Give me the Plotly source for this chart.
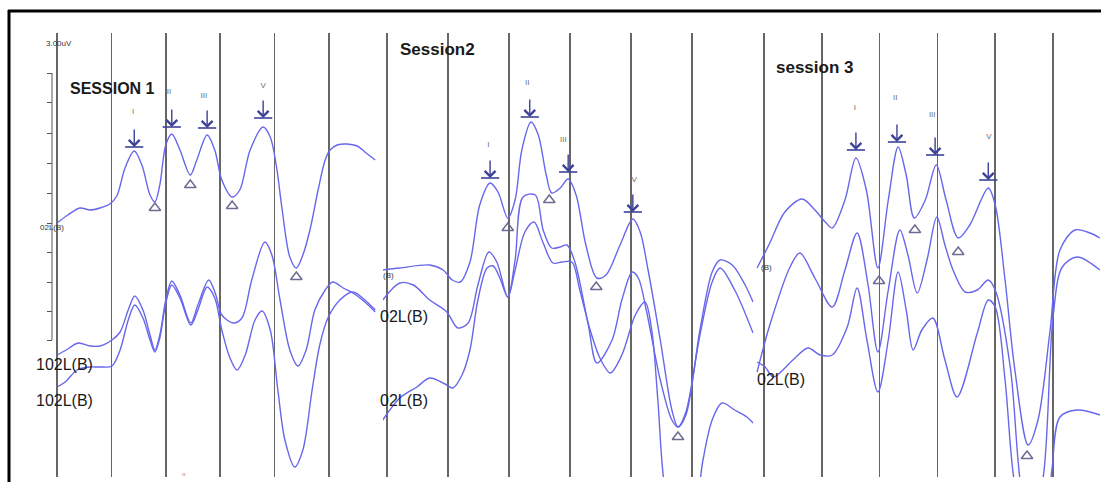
import plotly.graph_objects as go

W, H = 1101, 482

# ---------------- data (time in ms, amplitude in uV display units) ----------------
# Session 1
s1_t_a = [1.00,1.20,1.42,1.61,1.79,1.97,2.10,2.25,2.42,2.56,2.71,2.80,2.89,3.00,3.11,3.26,3.45,3.57,3.76,3.90,4.03,4.22,4.36,4.55,4.79,4.92,5.03,5.14,5.28,5.40,5.52,5.65,5.80,5.93,6.02,6.15,6.33,6.52,6.66,6.85]
s1_v_a = [5.54,5.70,5.84,5.80,5.84,5.92,6.08,6.64,6.98,6.70,6.10,5.96,6.30,7.10,7.32,7.00,6.50,6.80,7.30,7.00,6.40,6.06,6.20,7.00,7.46,7.26,6.70,5.80,4.86,4.64,4.90,5.40,6.20,6.80,7.00,7.10,7.12,7.08,6.96,6.80]
s1_t_b = [1.00,1.17,1.39,1.61,1.79,2.01,2.16,2.31,2.43,2.58,2.71,2.80,2.89,3.00,3.11,3.26,3.46,3.59,3.79,3.92,4.03,4.24,4.40,4.58,4.82,4.95,5.10,5.28,5.43,5.58,5.74,5.93,6.07,6.26,6.44,6.66,6.85]
s1_v_b = [2.90,3.00,3.14,3.08,3.08,3.20,3.36,3.80,4.08,3.80,3.30,3.00,3.30,4.00,4.38,4.10,3.54,3.90,4.40,4.10,3.70,3.54,3.64,4.40,5.16,4.90,4.00,3.00,2.68,3.00,3.80,4.20,4.36,4.24,4.14,3.96,3.76]
s1_t_c = [1.00,1.15,1.37,1.61,1.79,2.01,2.16,2.31,2.43,2.58,2.71,2.80,2.89,3.00,3.11,3.26,3.46,3.59,3.76,3.90,4.03,4.18,4.31,4.46,4.64,4.77,4.92,5.06,5.19,5.37,5.52,5.69,5.83,5.98,6.20,6.44,6.66,6.85]
s1_v_c = [2.26,2.36,2.60,2.66,2.66,2.68,3.00,3.60,3.90,3.64,3.20,2.96,3.24,3.94,4.30,4.04,3.50,3.80,4.26,4.04,3.40,2.84,2.60,2.90,3.60,3.78,3.40,2.20,1.20,0.66,1.00,2.20,3.10,3.64,4.00,4.16,4.00,3.80]
s1_peak_t = [2.42,3.11,3.76,4.79]
s1_peak_v = [7.06,7.46,7.44,7.64]
s1_lab_t = [2.40,3.06,3.70,4.79]
s1_lab_v = [7.76,8.16,8.08,8.28]
s1_trough_t = [2.80,3.45,4.22,5.40]
s1_trough_v = [5.84,6.30,5.88,4.46]

# Session 2
s2_t_a = [-0.07,0.21,0.70,0.92,1.07,1.20,1.36,1.52,1.69,1.82,1.98,2.10,2.21,2.36,2.48,2.61,2.70,2.84,2.97,3.10,3.26,3.44,3.59,3.82,4.03,4.15,4.28,4.48,4.67,4.77,4.90,5.13,5.33,5.46,5.66,5.87,6.00]
s2_v_a = [4.60,4.64,4.70,4.60,4.40,4.36,4.76,5.90,6.34,6.16,5.64,6.00,7.00,7.56,7.30,6.50,6.14,6.24,6.42,6.10,5.10,4.44,4.50,5.10,5.62,5.36,4.60,3.20,1.80,1.46,1.70,3.40,4.56,4.80,4.70,4.30,3.96]
s2_t_b = [-0.07,0.21,0.43,0.70,0.98,1.16,1.33,1.49,1.67,1.80,1.98,2.10,2.23,2.43,2.56,2.70,2.84,2.95,3.08,3.30,3.44,3.69,3.85,4.02,4.12,4.25,4.48,4.67,4.77,4.90,5.13,5.33,5.46,5.70,6.00]
s2_v_b = [4.00,4.34,4.30,4.00,3.76,3.44,3.54,4.30,4.96,4.76,4.06,4.80,6.06,6.10,5.40,5.04,5.06,5.10,4.76,3.50,2.74,3.20,4.00,4.56,4.44,3.80,2.40,1.60,1.46,1.76,3.30,4.36,4.64,4.20,3.34]
s2_t_c = [-0.07,0.21,0.49,0.70,0.95,1.08,1.23,1.36,1.49,1.64,1.74,1.85,1.98,2.10,2.26,2.41,2.56,2.72,2.87,3.03,3.16,3.33,3.49,3.66,3.85,4.07,4.23,4.34,4.44,4.56,4.80,5.05,5.18,5.33,5.49,5.70,5.90,6.00]
s2_v_c = [1.60,2.04,2.26,2.44,2.32,2.24,2.50,3.00,4.00,4.64,4.68,4.44,4.06,4.60,5.36,5.56,5.14,4.74,4.76,4.76,4.20,3.40,2.84,2.54,2.90,3.70,3.96,3.40,2.00,0.20,-0.80,-0.20,0.80,1.60,1.94,1.80,1.66,1.54]
s2_peak_t = [1.69,2.34,2.97,4.03]
s2_peak_v = [6.44,7.66,6.56,5.76]
s2_lab_t = [1.66,2.30,2.89,4.05]
s2_lab_v = [7.10,8.34,7.20,6.40]
s2_trough_t = [1.98,2.66,3.43,4.77]
s2_trough_v = [5.44,6.00,4.26,1.26]

# Session 3
s3_t_a = [-0.12,0.10,0.36,0.66,0.88,1.06,1.18,1.40,1.59,1.77,1.97,2.15,2.32,2.46,2.60,2.79,2.98,3.15,3.36,3.56,3.88,4.00,4.17,4.34,4.57,4.74,4.95,5.12,5.38,5.64,5.81]
s3_v_a = [4.64,5.14,5.76,6.02,5.80,5.56,5.44,6.00,6.84,6.20,4.64,6.00,7.06,6.50,5.64,6.00,6.70,6.00,5.24,5.50,6.24,5.90,4.40,2.60,1.10,1.60,3.40,5.00,5.40,5.34,5.24]
s3_t_b = [-0.12,0.10,0.45,0.62,0.88,1.18,1.40,1.61,1.80,1.97,2.15,2.35,2.49,2.65,2.82,2.99,3.13,3.27,3.48,3.69,3.88,4.00,4.26,4.43,4.60,4.83,5.00,5.16,5.42,5.81]
s3_v_b = [2.56,3.50,4.66,4.94,4.44,3.86,4.60,5.34,4.30,2.96,4.20,5.40,4.90,4.14,4.80,5.66,5.10,4.60,4.16,4.20,4.40,4.20,2.66,0.40,-0.60,0.46,3.66,4.66,4.86,4.60]
s3_t_c = [-0.12,0.02,0.16,0.50,0.76,0.97,1.18,1.44,1.61,1.78,1.97,2.15,2.32,2.46,2.58,2.73,2.92,3.13,3.34,3.69,3.88,4.00,4.17,4.31,4.52,4.86,4.98,5.12,5.42,5.81]
s3_v_c = [2.76,2.66,2.46,2.80,3.04,2.90,2.90,3.46,4.24,3.20,2.16,3.20,4.56,3.80,3.00,3.40,3.64,2.80,2.06,3.34,4.00,3.86,2.40,0.54,-0.80,-0.40,0.60,1.66,1.80,1.70]
s3_peak_t = [1.59,2.30,2.96,3.88]
s3_peak_v = [7.00,7.16,6.90,6.40]
s3_lab_t = [1.57,2.27,2.91,3.89]
s3_lab_v = [7.84,8.04,7.70,7.26]
s3_trough_t = [1.99,2.61,3.36,4.55]
s3_trough_v = [4.38,5.40,4.96,0.88]

wave_names = ["I", "II", "III", "V"]
amp_ticks = [8.54,7.96,7.34,6.74,6.14,5.54,4.96,4.36,3.78,3.20]

# ---------------- styling ----------------
LINE = "#6767ec"
ARROW = "#3d4198"
TRI = "#6c6c92"
GRID = "#666666"
FONT = "Liberation Sans, Arial, sans-serif"

fig = go.Figure()

panels = [
    ("x", "y", [(s1_t_a, s1_v_a), (s1_t_b, s1_v_b), (s1_t_c, s1_v_c)],
     s1_peak_t, s1_peak_v, s1_lab_t, s1_lab_v, s1_trough_t, s1_trough_v),
    ("x2", "y2", [(s2_t_a, s2_v_a), (s2_t_b, s2_v_b), (s2_t_c, s2_v_c)],
     s2_peak_t, s2_peak_v, s2_lab_t, s2_lab_v, s2_trough_t, s2_trough_v),
    ("x3", "y3", [(s3_t_a, s3_v_a), (s3_t_b, s3_v_b), (s3_t_c, s3_v_c)],
     s3_peak_t, s3_peak_v, s3_lab_t, s3_lab_v, s3_trough_t, s3_trough_v),
]

for xa, ya, traces, pt, pv, lt, lv, tt, tv in panels:
    for t, v in traces:
        fig.add_trace(go.Scatter(
            x=t, y=v, xaxis=xa, yaxis=ya, mode="lines",
            line=dict(color=LINE, width=1.4, shape="spline", smoothing=0.9),
            hoverinfo="skip", showlegend=False))
    # peak pickers: a bar at the peak with a down arrow pointing onto it
    fig.add_trace(go.Scatter(
        x=pt, y=pv, xaxis=xa, yaxis=ya, mode="markers",
        marker=dict(symbol="line-ew-open", size=13, color=ARROW,
                    line=dict(color=ARROW, width=1.6)),
        cliponaxis=False, hoverinfo="skip", showlegend=False))
    for t, v in zip(pt, pv):
        fig.add_annotation(x=t, y=v, xref=xa, yref=ya, text="", showarrow=True,
                           ax=0, ay=-19, arrowhead=4, arrowsize=1.5,
                           arrowwidth=1.4, arrowcolor=ARROW, standoff=0)
    fig.add_trace(go.Scatter(
        x=lt, y=lv, xaxis=xa, yaxis=ya, mode="text", text=wave_names,
        textfont=dict(family=FONT, size=8, color="#6e6e6e"),
        hoverinfo="skip", showlegend=False))
    fig.add_trace(go.Scatter(
        x=tt, y=tv, xaxis=xa, yaxis=ya, mode="markers",
        marker=dict(symbol="triangle-up-open", size=10, color=TRI,
                    line=dict(color=TRI, width=1.5)),
        hoverinfo="skip", showlegend=False))

ydom = [1 - 477 / H, 1 - 33 / H]
yrng = [10 - 0.02 * 477, 10 - 0.02 * 33]

xcommon = dict(showgrid=True, gridcolor=GRID, gridwidth=1.5, dtick=1, tick0=0,
               zeroline=False, showticklabels=False, ticks="", showline=False,
               fixedrange=True)

fig.update_layout(
    width=W, height=H, margin=dict(l=0, r=0, t=0, b=0),
    paper_bgcolor="white", plot_bgcolor="white", showlegend=False,
    xaxis=dict(domain=[10 / W, 383 / W], range=[0.136, 6.993], anchor="y", **xcommon),
    xaxis2=dict(domain=[383 / W, 753.5 / W], range=[-0.0656, 6.008], anchor="y2", **xcommon),
    xaxis3=dict(domain=[755 / W, 1.0], range=[-0.156, 5.83], anchor="y3", **xcommon),
    yaxis=dict(domain=ydom, range=yrng, anchor="free", position=52 / W,
               tickvals=amp_ticks, ticks="outside", ticklen=5, tickwidth=1,
               tickcolor="#555555", showticklabels=False, showgrid=False,
               zeroline=False, showline=False, fixedrange=True),
    yaxis2=dict(domain=ydom, range=yrng, anchor="x2", visible=False, fixedrange=True),
    yaxis3=dict(domain=ydom, range=yrng, anchor="x3", visible=False, fixedrange=True),
)

# amplitude scale bar line of session 1
fig.add_shape(type="line", xref="x", yref="y", x0=0.908, x1=0.908,
              y0=amp_ticks[0], y1=amp_ticks[-1], line=dict(color="#555555", width=1))

# frame
fig.add_shape(type="line", xref="paper", yref="paper", x0=9 / W, x1=9 / W,
              y0=0, y1=1 - 10 / H, line=dict(color="black", width=3))
fig.add_shape(type="line", xref="paper", yref="paper", x0=8 / W, x1=1,
              y0=1 - 11 / H, y1=1 - 11 / H, line=dict(color="black", width=3))


def label(text, px, py, size, bold=False, color="#1a1a1a"):
    fig.add_annotation(text=f"<b>{text}</b>" if bold else text,
                       xref="paper", yref="paper", x=px / W, y=1 - py / H,
                       xanchor="left", yanchor="middle", showarrow=False,
                       font=dict(family=FONT, size=size, color=color))


label("SESSION 1", 68, 88, 16, bold=True)
label("Session2", 398, 50, 17, bold=True)
label("session 3", 774, 68, 17, bold=True)
label("3.00uV", 44, 43, 8, color="#333333")
label("02L(B)", 38, 227, 8, color="#333333")
label("102L(B)", 34, 364, 16)
label("102L(B)", 34, 400, 16)
label("(B)", 381, 275, 8, color="#333333")
label("02L(B)", 378, 316, 16)
label("02L(B)", 378, 400, 16)
label("(B)", 759, 267, 8, color="#333333")
label("02L(B)", 755, 379, 16)
label("ıı", 180, 474, 6, color="#777777")

fig.write_html("out.html", include_plotlyjs=True,
               config={"displayModeBar": False, "staticPlot": True},
               post_script="document.body.style.margin='0';document.body.style.overflow='hidden';")
